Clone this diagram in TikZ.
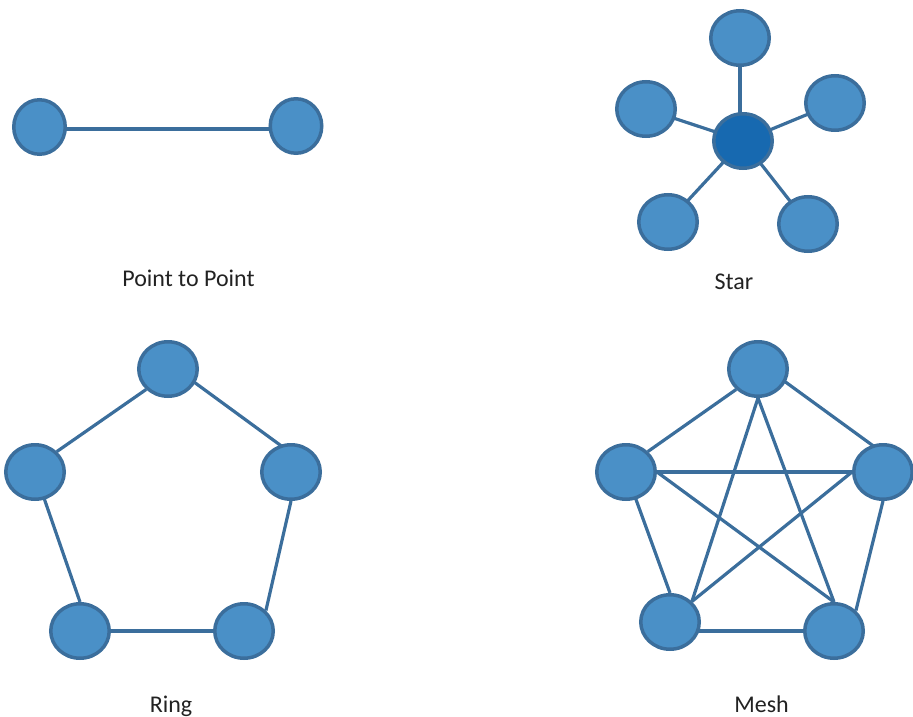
\documentclass[tikz,border=0pt]{standalone}
\usepackage{fontspec}
\setmainfont{Carlito}
\usetikzlibrary{shapes.geometric,calc}
\definecolor{nodefill}{HTML}{4A90C7}
\definecolor{nodeedge}{HTML}{3B6E9C}
\definecolor{hubfill}{HTML}{1769B0}
\definecolor{labeltext}{HTML}{222222}
\pgfdeclarelayer{bg}
\pgfsetlayers{bg,main}
\tikzset{
  netnode/.style={ellipse, draw=nodeedge, fill=nodefill, line width=3.5pt,
    minimum width=58.5pt, minimum height=54.5pt, inner sep=0pt},
  ptpnode/.style={netnode, minimum width=51.5pt, minimum height=54.5pt},
  hubnode/.style={netnode, fill=hubfill},
  link/.style={draw=nodeedge, line width=3.2pt},
  caption/.style={anchor=base, text=labeltext, font=\fontsize{24}{28}\selectfont, inner sep=0pt}
}
\begin{document}
\begin{tikzpicture}[x=1pt,y=-1pt]
\useasboundingbox (0,0) rectangle (913,717);
% Point to point
\node[ptpnode] (pa) at (39.5,127) {};
\node[ptpnode] (pb) at (296,126) {};
\node[caption] (lptp) at (188.5,286) {Point to Point};
% Star
\node[hubnode] (sc) at (743,141) {};
\node[netnode] (st) at (740,38) {};
\node[netnode] (sl) at (646,109) {};
\node[netnode] (sr) at (835,103) {};
\node[netnode] (sbl) at (668,222) {};
\node[netnode] (sbr) at (808,224) {};
\node[caption] (lstar) at (734,289) {Star};
% Ring
\node[netnode] (rt) at (168,369) {};
\node[netnode] (rl) at (35,472) {};
\node[netnode] (rr) at (291,472) {};
\node[netnode] (rbl) at (80,631) {};
\node[netnode] (rbr) at (244,631) {};
\node[caption] (lring) at (171,712) {Ring};
% Mesh
\node[netnode] (mt) at (758,369) {};
\node[netnode] (ml) at (626,472) {};
\node[netnode] (mr) at (883,472) {};
\node[netnode] (mbl) at (670,622) {};
\node[netnode] (mbr) at (834,631) {};
\node[caption] (lmesh) at (761.5,712) {Mesh};
\begin{pgfonlayer}{bg}
  % point to point
  \path[link] ($(pa.center)+(0,2)$) -- ($(pa.center -| pb.center)+(0,2)$);
  % star
  \path[link] (st.center) -- (st.center |- sc.center);
  \path[link] (sc.center) -- (sl.center);
  \path[link] (sc.center) -- (sr.center);
  \path[link] (sc.center) -- (sbl.center);
  \path[link] (sc.center) -- (sbr.center);
  % ring
  \path[link] (rt.south west) -- (rl.north east);
  \path[link] ($(rt.center)+(0,-6)$) -- ($(rr.center)+(0,-19)$);
  \path[link] (rl.center) -- (rbl.north);
  \path[link] (rr.south) -- (rbr.north east);
  \path[link] (rbr.center) -- (rbr.center -| rbl.center);
  % mesh
  \path[link] (mt.south west) -- (ml.north east);
  \path[link] ($(mt.center)+(0,-7)$) -- ($(mr.center)+(0,-19)$);
  \path[link] (ml.center) -- (mr.center);
  \path[link] (ml.center) -- (mbl.north);
  \path[link] (mr.south) -- (mbr.north east);
  \path[link] (mbr.center) -- (mbr.center -| mbl.center);
  \path[link] (mt.south) -- (mbl.north east);
  \path[link] (mt.south) -- (mbr.north);
  \path[link] (ml.east) -- (mbr.north);
  \path[link] (mr.west) -- (mbl.north east);
\end{pgfonlayer}
\end{tikzpicture}
\end{document}
